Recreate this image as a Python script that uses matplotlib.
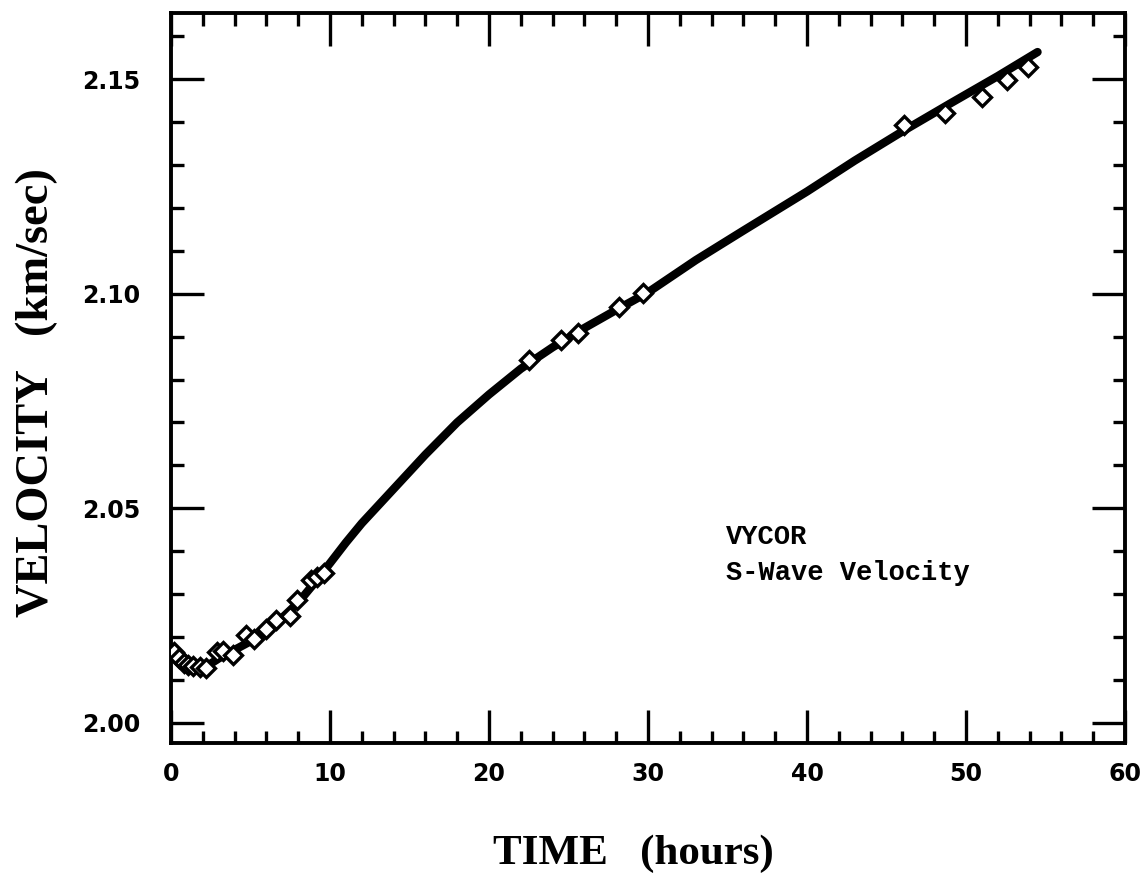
import matplotlib
matplotlib.use("Agg")
import matplotlib.pyplot as plt
import numpy as np
from matplotlib.ticker import MultipleLocator, FormatStrFormatter

# fitted curve
curve_t = [0, 0.5, 1, 1.5, 2, 2.5, 3, 4, 5, 6, 7, 8, 9, 10, 11, 12, 13, 14, 16, 18,
           20, 22, 24, 26, 28, 30, 33, 36, 40, 43, 46, 49, 52, 54.5]
curve_v = [2.0168, 2.0147, 2.0136, 2.0130, 2.0130, 2.0138, 2.0150, 2.0170, 2.0190,
           2.0215, 2.0245, 2.0280, 2.0325, 2.0372, 2.0420, 2.0465, 2.0505, 2.0545,
           2.0625, 2.0700, 2.0765, 2.0825, 2.0875, 2.0920, 2.0962, 2.1003, 2.1078,
           2.1147, 2.1238, 2.1310, 2.1378, 2.1443, 2.1507, 2.1563]

# measured points (diamonds)
meas_t = [0.2, 0.5, 0.8, 1.1, 1.4, 1.8, 2.2, 2.9, 3.3, 3.9, 4.7, 5.2, 6.0, 6.6, 7.5,
          7.9, 8.8, 9.2, 9.6, 22.5, 24.5, 25.6, 28.2, 29.7, 46.1, 48.7, 51.0, 52.6, 53.9]
meas_v = [2.0165, 2.0150, 2.0140, 2.0135, 2.0132, 2.0130, 2.0128, 2.0165, 2.0168,
          2.0158, 2.0205, 2.0195, 2.0218, 2.0240, 2.0248, 2.0287, 2.0333, 2.0340,
          2.0350, 2.0846, 2.0892, 2.0908, 2.0969, 2.1002, 2.1393, 2.1421, 2.1458,
          2.1498, 2.1528]

W, H = 1146, 875
fig = plt.figure(figsize=(W / 100, H / 100), dpi=100)
ax = fig.add_axes([171 / W, 1 - 743 / H, (1125 - 171) / W, (743 - 13) / H])

ax.plot(curve_t, curve_v, color="black", lw=6, solid_capstyle="round",
        solid_joinstyle="round", zorder=3)
ax.plot(meas_t, meas_v, linestyle="none", marker="D", markersize=9,
        markerfacecolor="white", markeredgecolor="black", markeredgewidth=2.4, zorder=4)

ax.set_xlim(0, 60)
ax.set_ylim(1.9953, 2.1654)
ax.xaxis.set_major_locator(MultipleLocator(10))
ax.xaxis.set_minor_locator(MultipleLocator(2))
ax.yaxis.set_major_locator(MultipleLocator(0.05))
ax.yaxis.set_minor_locator(MultipleLocator(0.01))
ax.yaxis.set_major_formatter(FormatStrFormatter("%.2f"))

for s in ax.spines.values():
    s.set_linewidth(2.8)

ax.tick_params(which="both", direction="in", top=True, right=True, width=2.4)
ax.tick_params(which="major", length=24)
ax.tick_params(which="minor", length=9)
ax.tick_params(axis="y", which="major", pad=22)
ax.tick_params(axis="x", which="major", pad=14)

for lab in ax.get_xticklabels() + ax.get_yticklabels():
    lab.set_fontfamily("DejaVu Sans")
    lab.set_fontweight("bold")
    lab.set_fontsize(17)

ax.set_xlabel("TIME   (hours)", fontfamily="Liberation Serif", fontweight="bold",
              fontsize=31)
ax.xaxis.set_label_coords(0.485, -0.125)
ax.set_ylabel("VELOCITY   (km/sec)", fontfamily="Liberation Serif", fontweight="bold",
              fontsize=33.5)
ax.yaxis.set_label_coords(-0.118, 0.48)

ax.text(34.9, 2.0433, "VYCOR", fontfamily="Liberation Mono", fontweight="bold",
        fontsize=19.5, va="center", ha="left")
ax.text(34.9, 2.0350, "S-Wave Velocity", fontfamily="Liberation Mono", fontweight="bold",
        fontsize=19.5, va="center", ha="left")

fig.savefig("out.png", dpi=100, facecolor="white")
